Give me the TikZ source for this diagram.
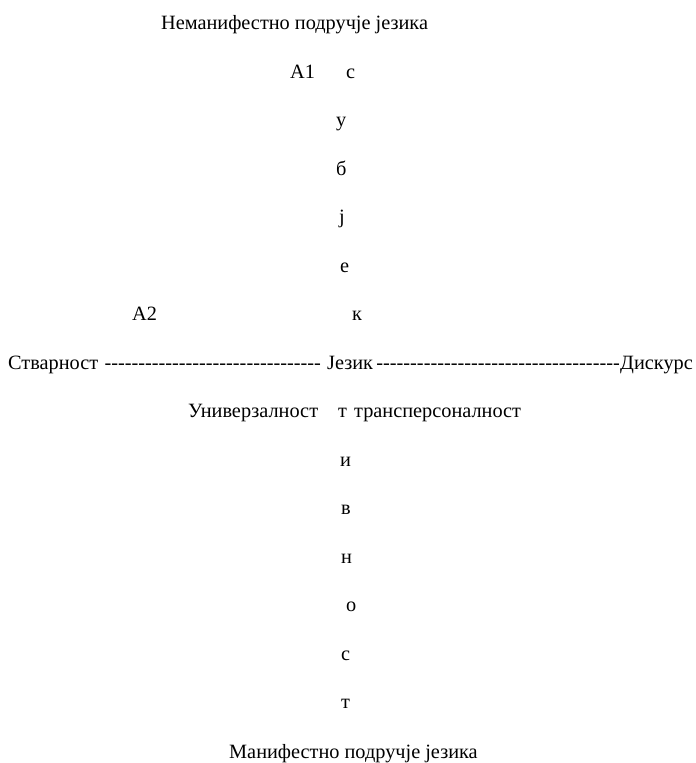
\documentclass[tikz,border=0pt]{standalone}
\usepackage{fontspec}
\setmainfont{Liberation Serif}[Ligatures=TeXOff]
\usetikzlibrary{calc}
\begin{document}
\begin{tikzpicture}[x=1pt,y=-1pt,
  txt/.style={inner sep=0pt, font=\fontsize{20.3}{24}\selectfont},
  lbl/.style={txt, anchor=base west},
  lble/.style={txt, anchor=base east}]
\useasboundingbox (0,0) rectangle (696,763);
% top: non-manifest region
\node[lbl] (top) at (161,29.5) {Неманифестно подручје језика};
\node[lbl] (a1) at (290,78) {A1};
% vertical word: субјект
\node[lbl] (v1) at (346,78) {с};
\node[lbl] (v2) at (336,126.5) {у};
\node[lbl] (v3) at (336,175) {б};
\node[lbl] (v4) at (339,223.5) {ј};
\node[lbl] (v5) at (340,272) {е};
\node[lbl] (a2) at (132,320.5) {A2};
\node[lbl] (v6) at (352,320.5) {к};
% horizontal axis
\node[lbl] (real) at (8,369) {Стварност};
\node[lbl] (lang) at (327,369) {Језик};
\node[lble] (disc) at (693,369) {Дискурс};
\node[txt, anchor=base] (d1) at ($(real.base east)!0.5!(lang.base west)$) {--------------------------------};
\node[lble] (d2) at (disc.base west) {------------------------------------};
% middle row
\node[lbl] (univ) at (188,417.5) {Универзалност};
\node[lbl] (w1) at (338,417.5) {т};
\node[lbl] (trans) at (354,417.5) {трансперсоналност};
% vertical word: ...тивност
\node[lbl] (w2) at (340,466) {и};
\node[lbl] (w3) at (341,514.5) {в};
\node[lbl] (w4) at (341,563) {н};
\node[lbl] (w5) at (346,611.5) {о};
\node[lbl] (w6) at (341,660) {с};
\node[lbl] (w7) at (341,708.5) {т};
% bottom: manifest region
\node[lbl] (bot) at (229,758) {Манифестно подручје језика};
\end{tikzpicture}
\end{document}
